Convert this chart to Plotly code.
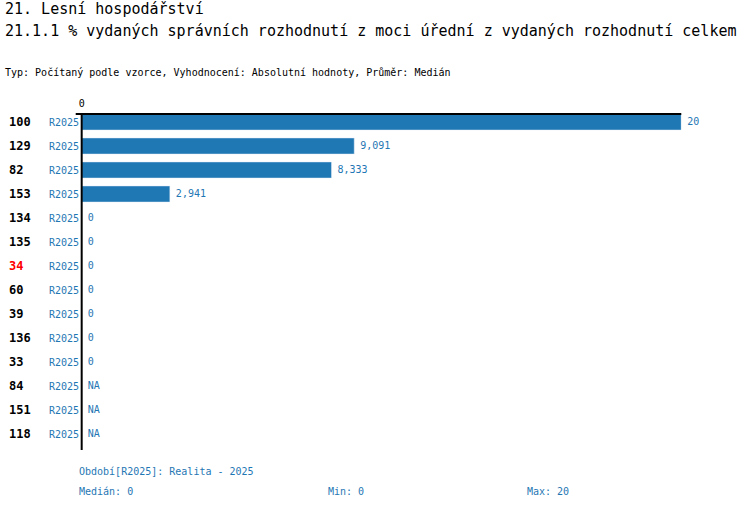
import plotly.graph_objects as go

W, H = 750, 510

title1 = "21. Lesní hospodářství"
title2 = "21.1.1 % vydaných správních rozhodnutí z moci úřední z vydaných rozhodnutí celkem"
subtitle = "Typ: Počítaný podle vzorce, Vyhodnocení: Absolutní hodnoty, Průměr: Medián"

ids = ["100", "129", "82", "153", "134", "135", "34", "60", "39", "136", "33", "84", "151", "118"]
period = "R2025"
values = [20, 9.091, 8.333, 2.941, 0, 0, 0, 0, 0, 0, 0, None, None, None]
highlight = "34"

footer_period = "Období[R2025]: Realita - 2025"
stat_labels = ["Medián: 0", "Min: 0", "Max: 20"]

BLUE = "#1f77b4"
MONO = "DejaVu Sans Mono, Liberation Mono, monospace"
SHIFT = -2  # px correction for the rendered offset


def px_x(p):
    return (p + SHIFT) / W


def px_y(p):
    return 1 - p / H


def fmt(v):
    if v is None:
        return "NA"
    return f"{v:.3f}".rstrip("0").rstrip(".").replace(".", ",")


xs = [v if v is not None else 0 for v in values]

fig = go.Figure()
fig.add_trace(go.Bar(
    y=ids, x=xs, orientation="h",
    marker_color=BLUE, width=0.67, hoverinfo="skip",
))
fig.add_trace(go.Scatter(
    y=ids, x=xs, mode="text", cliponaxis=False,
    text=["\u2009" + fmt(v) for v in values], textposition="middle right",
    textfont=dict(family=MONO, size=10, color=BLUE), hoverinfo="skip",
))

# row labels on the left
for k, i in enumerate(ids):
    fig.add_annotation(x=px_x(6), xref="paper", y=k, yref="y", text=f"<b>{i}</b>",
                       showarrow=False, xanchor="left",
                       font=dict(family=MONO, size=12, color="red" if i == highlight else "black"))
    fig.add_annotation(x=px_x(80), xref="paper", y=k, yref="y", text=period,
                       showarrow=False, xanchor="right",
                       font=dict(family=MONO, size=10, color=BLUE))

# titles
fig.add_annotation(x=0, y=px_y(9), xref="paper", yref="paper", text=title1, showarrow=False,
                   xanchor="left", yanchor="middle", font=dict(family=MONO, size=15, color="black"))
fig.add_annotation(x=0, y=px_y(31), xref="paper", yref="paper", text=title2, showarrow=False,
                   xanchor="left", yanchor="middle", font=dict(family=MONO, size=15, color="black"))
fig.add_annotation(x=0, y=px_y(73), xref="paper", yref="paper", text=subtitle, showarrow=False,
                   xanchor="left", yanchor="middle", font=dict(family=MONO, size=10, color="black"))

# footer
fig.add_annotation(x=px_x(76), y=px_y(471), xref="paper", yref="paper", text=footer_period,
                   showarrow=False, xanchor="left", yanchor="middle",
                   font=dict(family=MONO, size=10, color=BLUE))
for xp, s in zip([76, 326, 526], stat_labels):
    fig.add_annotation(x=px_x(xp), y=px_y(491), xref="paper", yref="paper", text=s,
                       showarrow=False, xanchor="left", yanchor="middle",
                       font=dict(family=MONO, size=10, color=BLUE))

# axis lines
fig.add_shape(type="line", xref="paper", yref="paper", x0=px_x(75), x1=px_x(683),
              y0=px_y(114), y1=px_y(114), line=dict(color="black", width=2))
fig.add_shape(type="line", xref="paper", yref="paper", x0=px_x(81), x1=px_x(81),
              y0=px_y(113), y1=px_y(450), line=dict(color="black", width=2))

fig.update_layout(
    width=W, height=H, margin=dict(l=0, r=0, t=0, b=0),
    plot_bgcolor="white", paper_bgcolor="white", showlegend=False,
    xaxis=dict(domain=[px_x(81), px_x(683)], range=[0, 20], side="top",
               tickvals=[0], ticktext=["0"], showgrid=False, zeroline=False, showline=False,
               ticks="", tickfont=dict(family=MONO, size=10, color="black")),
    yaxis=dict(type="category", domain=[px_y(446), px_y(110)], range=[len(ids) - 0.5, -0.5],
               showticklabels=False, showgrid=False, zeroline=False, showline=False, ticks=""),
)

fig.write_html("out.html", config={"displayModeBar": False},
               post_script="document.body.style.margin='0';")
